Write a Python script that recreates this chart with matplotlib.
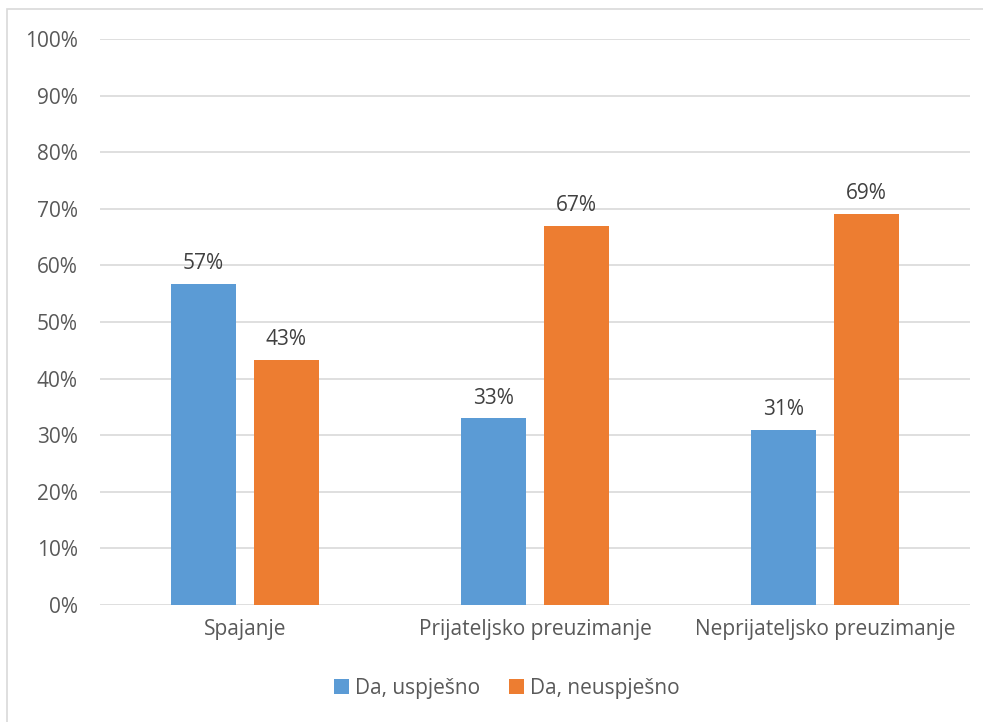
import matplotlib.pyplot as plt
from matplotlib.patches import Rectangle
import numpy as np

# podaci
kategorije = ['Spajanje', 'Prijateljsko preuzimanje', 'Neprijateljsko preuzimanje']
uspjesno = [56.7, 33.0, 30.9]
neuspjesno = [43.3, 67.0, 69.1]
oznake_usp = ['57%', '33%', '31%']
oznake_neusp = ['43%', '67%', '69%']
y_ticks = list(range(0, 101, 10))

plt.rcParams['font.family'] = ['Open Sans', 'DejaVu Sans']

fig = plt.figure(figsize=(9.83, 7.22), dpi=100)
ax = fig.add_axes([0.1017, 0.162, 0.885, 0.784])

# okvir grafikona
fig.patches.append(Rectangle((0.007, -0.2), 1.2, 1.1875, transform=fig.transFigure,
                             fill=False, edgecolor='#D9D9D9', linewidth=1.2))

x = np.arange(len(kategorije))
w = 0.224
b1 = ax.bar(x - 0.143, uspjesno, w, color='#5B9BD5', label='Da, uspješno', zorder=3)
b2 = ax.bar(x + 0.143, neuspjesno, w, color='#ED7D31', label='Da, neuspješno', zorder=3)

for bars, labs in [(b1, oznake_usp), (b2, oznake_neusp)]:
    for b, t in zip(bars, labs):
        ax.annotate(t, (b.get_x() + b.get_width() / 2, b.get_height()),
                    xytext=(0, 7), textcoords='offset points', ha='center', va='bottom',
                    fontsize=15, color='#404040')

ax.set_xlim(-0.5, 2.5)
ax.set_ylim(0, 100)
ax.set_yticks(y_ticks)
ax.set_yticklabels([f'{v}%' for v in y_ticks])
ax.set_xticks(x)
ax.set_xticklabels(kategorije)
ax.tick_params(axis='both', length=0, labelsize=15, colors='#595959')
ax.tick_params(axis='y', pad=16)
ax.tick_params(axis='x', pad=10)
ax.grid(axis='y', color='#D9D9D9', linewidth=1.2, zorder=0)
for s in ax.spines.values():
    s.set_visible(False)

ax.legend(loc='center', bbox_to_anchor=(0.468, -0.147), ncol=2, frameon=False,
          fontsize=15, labelcolor='#595959', handlelength=0.7, handleheight=0.7,
          handletextpad=0.3, columnspacing=1.4)

fig.savefig('out.png', dpi=100)
